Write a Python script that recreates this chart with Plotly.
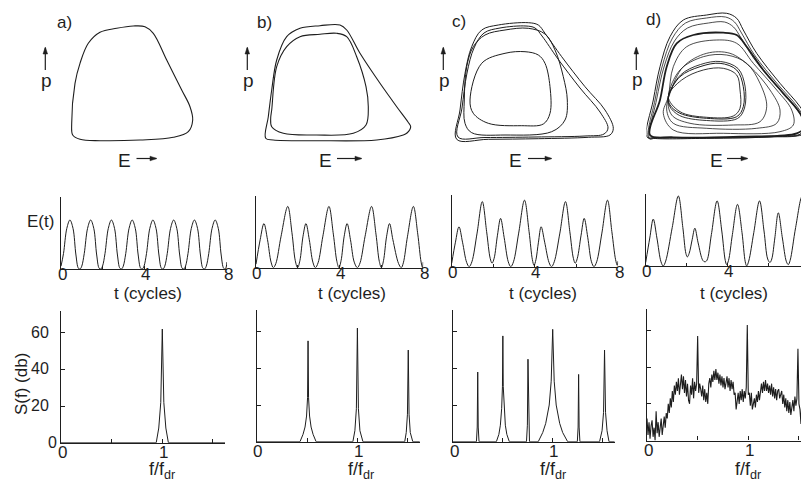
import plotly.graph_objects as go
import numpy as np

# The page body keeps its default 8px margin, so the figure is sized to fit the window.
OFF = 8
W, H = 809, 484
FW, FH = W - OFF, H - OFF
INK = "#1e1e1e"
FONT = "Liberation Sans, Arial, sans-serif"

# ---------------- DATA ----------------
panel_labels = ["a)", "b)", "c)", "d)"]

# --- phase portraits p vs E (arbitrary units) ---
a_E = [11.7, 10.7, 14, 19, 27.3, 39, 55.7, 72.3, 84, 92.3, 105.7, 120.7, 129, 131.7, 127.3, 112.3, 79, 39, 19]
a_p = [15, 26.7, 66.7, 86.7, 106.7, 117.7, 121.7, 124, 123.3, 116.7, 90, 60, 43.3, 30, 18.3, 12.7, 10, 9.3, 10.7]

b_outer_E = [9.2, 11.8, 15.2, 20.2, 30.2, 43.5, 63.5, 83.5, 90.2, 103.5, 123.5, 140.2, 151.5, 154.2, 150.5, 146.8, 120.2, 60.2, 16.8]
b_outer_p = [11.7, 33.3, 60, 90, 113.3, 121.7, 124.3, 125, 120, 96.7, 66.7, 43.3, 28, 23.3, 17, 15, 10, 9.3, 10]
b_inner_E = [15.2, 20.2, 30.2, 43.5, 63.5, 80.2, 90.2, 100.2, 109.5, 111.8, 109.5, 96.8, 60.2, 26.8, 15.2, 14.2]
b_inner_p = [40, 83.3, 103.3, 113.3, 115.7, 116.7, 113.3, 93.3, 63.3, 43.3, 25, 16.7, 15, 16.7, 23.3, 32]

c_outer1_E = [4.7, 8, 13, 19.7, 29.7, 46.3, 76.3, 86.3, 93, 109.7, 133, 153, 161.3, 158, 136.3, 86.3, 36.3]
c_outer1_p = [10.7, 40, 76.7, 103.3, 120, 125, 127.3, 125, 116.7, 93.3, 63.3, 40, 21.7, 15, 12.7, 11.3, 10.7]
c_outer2_E = [6, 10, 15, 22, 32, 48, 74, 83, 90, 106, 128, 148, 156, 152, 133, 83, 33]
c_outer2_p = [13, 42, 77, 102, 117, 122, 124, 122, 114, 91, 62, 38, 22, 16, 14, 13, 12.5]
c_mid_E = [19.7, 13, 12.3, 14.7, 21.3, 33, 53, 76.3, 93, 103, 111.3, 115.3, 113, 99.7, 53]
c_mid_p = [17.3, 26.7, 50, 83.3, 103.3, 115, 120, 121.7, 116, 100, 73.3, 50, 30, 18.3, 15]
c_inner_E = [18, 29.7, 53, 73, 86.3, 93, 98, 98, 91.3, 69.7, 36.3, 21.3]
c_inner_p = [50, 86.7, 96.7, 98.3, 95, 86.7, 63.3, 36.7, 26, 24.3, 26.7, 36.7]

d1_E = [0.2, 6.8, 13.5, 23.5, 36.8, 60.2, 80.2, 90.2, 96.8, 110.2, 133.5, 153.5, 161.8, 158.5, 126.8, 60.2, 6.8]
d1_p = [13.3, 50, 83.3, 113.3, 130, 135, 136.7, 131.7, 120, 96.7, 66.7, 43.3, 28.3, 16.7, 13.3, 11.7, 11.7]
d2_E = [2, 8.5, 15.5, 26, 39, 60, 79, 88, 95, 108, 131, 151, 159, 156, 125, 60, 8]
d2_p = [12, 50, 83, 112, 127, 132, 133, 128, 117, 95, 66, 43, 28, 17, 14, 12.5, 12.5]
d3_E = [3, 10, 17.5, 28, 41, 62, 78, 87, 94, 107, 130, 150, 158, 154, 122, 60, 9]
d3_p = [11, 50, 83, 109, 122, 127, 128, 123, 113, 92, 64, 41, 27, 16, 13, 12, 12]
d4_E = [3.5, 13.5, 20.2, 30.2, 46.8, 76.8, 90.2, 100.2, 116.8, 136.8, 153.5, 158.5, 150.2, 93.5, 26.8]
d4_p = [15, 50, 83.3, 106.7, 115, 117.3, 115, 103.3, 80, 56.7, 36.7, 23.3, 16.7, 13.3, 12.7]
d5_E = [21.8, 26.8, 40.2, 70.2, 90.2, 106.8, 130.2, 145.2, 146.8, 133.5, 76.8, 26.8, 16.8]
d5_p = [53.3, 83.3, 103.3, 110, 106.7, 86.7, 60, 40, 25, 18.3, 16.7, 20, 36.7]
d6_E = [23.5, 36.8, 60.2, 83.5, 103.5, 123.5, 133.5, 130.2, 110.2, 60.2, 26.8, 20.2]
d6_p = [56.7, 83.3, 96.7, 96.7, 83.3, 60, 40, 26.7, 21.7, 21.7, 26.7, 40]
d7_E = [21.8, 33.5, 56.8, 80.2, 100.2, 113.5, 120.2, 113.5, 86.8, 43.5, 25.2]
d7_p = [53.3, 80, 93.3, 95, 86.7, 66.7, 43.3, 28.3, 25, 26.7, 35]
d8_E = [21.8, 33.5, 53.5, 73.5, 90.2, 96.8, 96.8, 90.2, 60.2, 33.5, 23.5]
d8_p = [53.3, 73.3, 83.3, 86.7, 80, 63.3, 43.3, 33.3, 31.7, 36.7, 45]
d9_E = [21.8, 35.2, 56.8, 76.8, 90.2, 93.5, 93.5, 86.8, 60.2, 33.5]
d9_p = [53.3, 70, 80, 81.7, 75, 60, 41.7, 34, 32.7, 38.3]
d10_E = [22, 34, 54, 74, 91.5, 98.5, 98, 91, 60, 33, 23]
d10_p = [53, 75, 85.5, 88.5, 81.5, 64, 42, 31.5, 29.5, 34.5, 44]

# --- time series E(t), t in drive cycles ---
ts_ticks = [0, 2, 4, 6, 8]
ts_labels = [0, 4, 8]

t_a = [0, 0.12, 0.28, 0.43, 0.58, 0.72, 0.84, 0.92,
       1.0, 1.12, 1.28, 1.43, 1.58, 1.72, 1.84, 1.92,
       2.0, 2.12, 2.28, 2.43, 2.58, 2.72, 2.84, 2.92,
       3.0, 3.12, 3.28, 3.43, 3.58, 3.72, 3.84, 3.92,
       4.0, 4.12, 4.28, 4.43, 4.58, 4.72, 4.84, 4.92,
       5.0, 5.12, 5.28, 5.43, 5.58, 5.72, 5.84, 5.92,
       6.0, 6.12, 6.28, 6.43, 6.58, 6.72, 6.84, 6.92,
       7.0, 7.12, 7.28, 7.43, 7.58, 7.72, 7.84, 7.92, 8.0]
E_a = [0.04, 0.22, 0.58, 0.70, 0.58, 0.20, 0.01, 0.0,
       0.04, 0.22, 0.58, 0.70, 0.58, 0.20, 0.01, 0.0,
       0.04, 0.22, 0.58, 0.70, 0.58, 0.20, 0.01, 0.0,
       0.04, 0.22, 0.58, 0.70, 0.58, 0.20, 0.01, 0.0,
       0.04, 0.22, 0.58, 0.70, 0.58, 0.20, 0.01, 0.0,
       0.04, 0.22, 0.58, 0.70, 0.58, 0.20, 0.01, 0.0,
       0.04, 0.22, 0.58, 0.70, 0.58, 0.20, 0.01, 0.0,
       0.04, 0.22, 0.58, 0.70, 0.58, 0.20, 0.01, 0.0, 0.10]

t_b = [0, 0.2, 0.38, 0.55, 0.72, 0.83, 0.95, 1.2, 1.52, 1.72, 1.88, 1.99,
       2.1, 2.25, 2.39, 2.55, 2.72, 2.84, 2.97, 3.2, 3.49, 3.7, 3.87, 3.97,
       4.07, 4.22, 4.36, 4.52, 4.7, 4.85, 4.98, 5.22, 5.53, 5.74, 5.9, 6.0,
       6.1, 6.25, 6.39, 6.55, 6.82, 6.95, 7.05, 7.25, 7.53, 7.74, 7.9, 7.97, 8.0]
E_b = [0.05, 0.40, 0.63, 0.40, 0.08, 0.0, 0.06, 0.45, 0.875, 0.50, 0.10, 0.0,
       0.10, 0.45, 0.63, 0.40, 0.08, 0.0, 0.07, 0.45, 0.875, 0.48, 0.09, 0.0,
       0.10, 0.45, 0.63, 0.40, 0.08, 0.0, 0.07, 0.45, 0.875, 0.48, 0.09, 0.0,
       0.10, 0.45, 0.63, 0.40, 0.06, 0.0, 0.07, 0.45, 0.875, 0.48, 0.08, 0.0, 0.08]

t_c = [0, 0.18, 0.35, 0.52, 0.72, 0.84, 0.97, 1.22, 1.47, 1.68, 1.85, 1.94,
       2.04, 2.2, 2.35, 2.52, 2.72, 2.84, 2.97, 3.22, 3.5, 3.72, 3.88, 3.96,
       4.05, 4.17, 4.3, 4.47, 4.68, 4.8, 4.93, 5.2, 5.47, 5.68, 5.85, 5.94,
       6.04, 6.22, 6.37, 6.54, 6.72, 6.84, 6.97, 7.22, 7.49, 7.7, 7.88, 7.96, 8.0]
E_c = [0.05, 0.35, 0.57, 0.35, 0.06, 0.0, 0.07, 0.48, 0.93, 0.50, 0.12, 0.05,
       0.12, 0.45, 0.69, 0.42, 0.07, 0.0, 0.07, 0.48, 0.95, 0.50, 0.10, 0.02,
       0.10, 0.35, 0.57, 0.35, 0.06, 0.0, 0.07, 0.48, 0.93, 0.50, 0.12, 0.05,
       0.12, 0.45, 0.69, 0.42, 0.07, 0.0, 0.07, 0.48, 0.95, 0.50, 0.10, 0.02, 0.08]

t_d = [0, 0.2, 0.37, 0.55, 0.75, 0.86, 0.98, 1.3, 1.6, 1.82, 1.97, 2.04,
       2.13, 2.28, 2.41, 2.57, 2.8, 2.9, 3.0, 3.22, 3.5, 3.73, 3.9, 3.97,
       4.06, 4.25, 4.5, 4.72, 4.88, 4.95, 5.05, 5.3, 5.58, 5.8, 5.98, 6.09,
       6.18, 6.33, 6.5, 6.7, 6.9, 6.99, 7.08, 7.35, 7.66, 7.88, 8.0]
E_d = [0.05, 0.40, 0.67, 0.40, 0.06, 0.0, 0.07, 0.55, 1.0, 0.55, 0.18, 0.13,
       0.18, 0.38, 0.54, 0.33, 0.08, 0.06, 0.08, 0.45, 0.93, 0.50, 0.08, 0.02,
       0.08, 0.45, 0.88, 0.48, 0.06, 0.0, 0.07, 0.48, 0.93, 0.50, 0.10, 0.05,
       0.10, 0.40, 0.76, 0.40, 0.06, 0.02, 0.08, 0.55, 0.99, 0.55, 0.20]

# --- power spectra S(f) in dB, f in units of f_dr ---
sp_xticks = [0, 0.5, 1, 1.5]
sp_xlabels = [0, 1]
sp_yticks = [0, 20, 40, 60]

f_a = [0, 0.94, 0.965, 0.985, 1.0, 1.015, 1.035, 1.06, 1.62]
S_a = [0, 0, 8, 22, 62, 22, 8, 0, 0]

f_b = [0, 0.43, 0.46, 0.48, 0.495, 0.505, 0.51, 0.515, 0.525, 0.54, 0.56, 0.59,
       0.955, 0.975, 0.99, 1.0, 1.01, 1.025, 1.055,
       1.47, 1.485, 1.497, 1.505, 1.513, 1.525, 1.55, 1.62]
S_b = [0, 0, 4, 8, 14, 24, 55, 24, 14, 8, 4, 0,
       0, 6, 18, 62, 18, 6, 0,
       0, 5, 15, 50, 15, 5, 0, 0]

f_c = [0, 0.235, 0.243, 0.248, 0.253, 0.261,
       0.435, 0.46, 0.475, 0.488, 0.496, 0.5, 0.504, 0.512, 0.525, 0.54, 0.565,
       0.737, 0.746, 0.752, 0.758, 0.767,
       0.855, 0.9, 0.93, 0.965, 0.985, 1.0, 1.015, 1.035, 1.07, 1.1, 1.15,
       1.247, 1.255, 1.26, 1.265, 1.273,
       1.47, 1.495, 1.51, 1.52, 1.53, 1.545, 1.565, 1.63]
S_c = [0, 0, 8, 38, 8, 0,
       0, 4, 9, 18, 30, 57.7, 30, 18, 9, 4, 0,
       0, 9, 45, 9, 0,
       0, 5, 10, 20, 33, 61.3, 33, 20, 10, 5, 0,
       0, 8, 36.7, 8, 0,
       0, 6, 16, 50, 16, 6, 0, 0]

S_d = [12, 3, 10, 1, 8, 11, 2, 7, 0, 16,
       4, 10, 2, 9, 12, 3, 8, 13, 7, 15,
       12, 20, 15, 23, 18, 27, 21, 30, 25, 32,
       27, 34, 25, 32, 36, 28, 35, 26, 33, 24,
       31, 22, 20, 30, 25, 34, 23, 32, 27, 31,
       57,
       26, 31, 28, 24, 30, 22, 28, 21, 26,
       20, 31, 34, 29, 36, 32, 38, 33, 39, 33,
       37, 31, 36, 30, 35, 29, 34, 28, 33, 35,
       29, 34, 27, 33, 28, 32, 25, 26, 17, 22,
       26, 20, 27, 22, 28, 21, 27, 23, 29, 63,
       25, 26, 19, 26, 17, 20, 23, 18, 25, 21,
       27, 22, 29, 31, 26, 32, 27, 33, 27, 31,
       26, 30, 25, 31, 24, 29, 23, 28, 22, 27,
       28, 23, 25, 27, 20, 25, 18, 23, 16, 22,
       15, 21, 14, 20, 22, 16, 24, 19, 23, 50,
       20, 17, 9, 25, 16, 23, 19, 15, 22, 18, 24]
f_d = np.linspace(0, 1.6, len(S_d))

# ---------------- GEOMETRY (window pixels) ----------------
X_ph = [61, 256.5, 452, 646.5]
X_ts = [61, 256, 451.7, 645.7]
ppc_ts = [20.75, 20.9, 20.8, 20.4]
B_ts = [269, 267.7, 266.7, 266]
X_sp = [61, 256.7, 453, 647]
ppu_sp = [101.3, 100.7, 99.7, 101.3]
B_sp = [442.7, 441.7, 441.7, 440.5]
DB_PX = 1.833


def fx(x):
    return (x - OFF) / FW


def fy(y):
    return 1 - (y - OFF) / FH


fig = go.Figure()
layout = {}
counter = [0]


def new_axes(x0, x1, ytop, ybot, xopt, yopt):
    counter[0] += 1
    i = counter[0]
    xn = "xaxis" if i == 1 else f"xaxis{i}"
    yn = "yaxis" if i == 1 else f"yaxis{i}"
    xr = "x" if i == 1 else f"x{i}"
    yr = "y" if i == 1 else f"y{i}"
    xd = [max(0, fx(x0)), min(1, fx(x1))]
    yd = [max(0, fy(ybot)), min(1, fy(ytop))]
    base = dict(showgrid=False, zeroline=False, fixedrange=True)
    layout[xn] = dict(base, domain=xd, anchor=yr, **xopt)
    layout[yn] = dict(base, domain=yd, anchor=xr, **yopt)
    return xr, yr


def line(x, y, xr, yr, width=1.0, shape="linear"):
    fig.add_trace(go.Scatter(x=x, y=y, mode="lines", xaxis=xr, yaxis=yr,
                             line=dict(color=INK, width=width, shape=shape, smoothing=1.0),
                             hoverinfo="skip", showlegend=False))


def loop(E, p, xr, yr, width=1.0):
    line(list(E) + [E[0]], list(p) + [p[0]], xr, yr, width, "spline")


phase_sets = [
    [(a_E, a_p, 1.1)],
    [(b_outer_E, b_outer_p, 1.1), (b_inner_E, b_inner_p, 1.1)],
    [(c_outer1_E, c_outer1_p, 1.0), (c_outer2_E, c_outer2_p, 1.0),
     (c_mid_E, c_mid_p, 1.0), (c_inner_E, c_inner_p, 1.0)],
    [(d1_E, d1_p, 1.0), (d2_E, d2_p, 0.8), (d3_E, d3_p, 0.8), (d4_E, d4_p, 1.8),
     (d5_E, d5_p, 0.8), (d6_E, d6_p, 0.8), (d7_E, d7_p, 0.8), (d8_E, d8_p, 1.0),
     (d9_E, d9_p, 0.9), (d10_E, d10_p, 0.9)],
]
ts_sets = [(t_a, E_a), (t_b, E_b), (t_c, E_c), (t_d, E_d)]
sp_sets = [(f_a, S_a), (f_b, S_b), (f_c, S_c), (list(f_d), S_d)]

ann = []
shapes = []


def text(s, x, y, size=17, angle=0, xanchor="center"):
    ann.append(dict(text=s, x=fx(x), y=fy(y), xref="paper", yref="paper", showarrow=False,
                    xanchor=xanchor, yanchor="middle", textangle=angle,
                    font=dict(family=FONT, size=size, color=INK)))


def arrow(x0, y0, x1, y1):
    # shaft
    shapes.append(dict(type="line", xref="paper", yref="paper",
                       x0=fx(x0), y0=fy(y0), x1=fx(x1), y1=fy(y1),
                       line=dict(color=INK, width=1.2)))
    # solid head
    if y0 == y1:
        pts = [(x1 + 1, y1), (x1 - 6, y1 - 2.3), (x1 - 6, y1 + 2.3)]
    else:
        pts = [(x1, y1 - 1), (x1 - 2.3, y1 + 6), (x1 + 2.3, y1 + 6)]
    path = "M " + " L ".join(f"{fx(px):.5f},{fy(py):.5f}" for px, py in pts) + " Z"
    shapes.append(dict(type="path", xref="paper", yref="paper", path=path,
                       fillcolor=INK, line=dict(color=INK, width=0.5)))


for k in range(4):
    # ---- phase portrait ----
    x1 = min(X_ph[k] + 170, W)
    xr, yr = new_axes(X_ph[k], x1, 8, 150,
                      dict(visible=False, range=[0, x1 - X_ph[k]]),
                      dict(visible=False, range=[0, 142]))
    for E, p, wd in phase_sets[k]:
        loop(E, p, xr, yr, wd)

    # ---- time series ----
    x1 = min(X_ts[k] + 8 * ppc_ts[k], W)
    xr, yr = new_axes(X_ts[k], x1, B_ts[k] - 72, B_ts[k],
                      dict(range=[0, (x1 - X_ts[k]) / ppc_ts[k]], showline=True, linecolor=INK,
                           linewidth=1.2, ticks="inside", ticklen=3, tickcolor=INK, tickwidth=1,
                           tickvals=ts_ticks, showticklabels=False),
                      dict(range=[0, 72 / 70], showline=True, linecolor=INK, linewidth=1.2,
                           ticks="", showticklabels=False))
    t, E = ts_sets[k]
    line(t, E, xr, yr, 1.0, "spline")
    for v in ts_labels:
        text(str(v), X_ts[k] + v * ppc_ts[k] + 1, B_ts[k] + 5.5, size=17)

    # ---- spectrum ----
    x1 = min(X_sp[k] + 1.62 * ppu_sp[k], W)
    xr, yr = new_axes(X_sp[k], x1, B_sp[k] - 72 * DB_PX, B_sp[k],
                      dict(range=[0, (x1 - X_sp[k]) / ppu_sp[k]], showline=True, linecolor=INK,
                           linewidth=1.2, ticks="inside", ticklen=4, tickcolor=INK,
                           tickvals=sp_xticks, showticklabels=False),
                      dict(range=[0, 72], showline=True, linecolor=INK, linewidth=1.2,
                           ticks="inside", ticklen=4, tickcolor=INK, tickvals=sp_yticks,
                           showticklabels=False))
    f, S = sp_sets[k]
    line(f, S, xr, yr, 1.1 if k == 3 else 1.0, "linear")
    for v in sp_xlabels:
        text(str(v), X_sp[k] + v * ppu_sp[k] + 1, B_sp[k] + 10, size=17)

# y tick labels of the first spectrum
for v in sp_yticks:
    xr_lab = 58.5 if v == 0 else 50.5
    text(str(v), xr_lab, B_sp[0] - v * DB_PX - 0.5, size=16, xanchor="right")

# ---------------- TEXT ----------------
letter_pos = [(65, 22), (264, 22), (459, 21), (653, 19)]
p_pos = [(46, 80), (248, 80), (444, 80), (637, 79)]
E_pos = [(124.5, 160), (325, 160), (515, 160), (716.7, 160)]
E_arrow = [(136.5, 156), (337, 361), (528, 551), (727, 747)]
tc_pos = [148, 352, 543, 734]
ff_pos = [162, 361, 553, 748]

for k in range(4):
    text(panel_labels[k], *letter_pos[k], size=17)
    text("p", *p_pos[k], size=19)
    arrow(p_pos[k][0] - 0.7, 70, p_pos[k][0] - 0.7, 48)
    text("E", *E_pos[k], size=19)
    arrow(E_arrow[k][0], 158.5, E_arrow[k][1], 158.5)
    text("t (cycles)", tc_pos[k], 293, size=17)
    text("f/f<sub>dr</sub>", ff_pos[k], 470, size=18)

text("E(t)", 40, 222, size=17)
text("S(f) (db)", 21, 384, size=17, angle=-90)

fig.update_layout(**layout)
fig.update_layout(width=FW, height=FH, margin=dict(l=0, r=0, t=0, b=0),
                  paper_bgcolor="white", plot_bgcolor="white",
                  showlegend=False, annotations=ann, shapes=shapes)

fig.write_html("out.html")
